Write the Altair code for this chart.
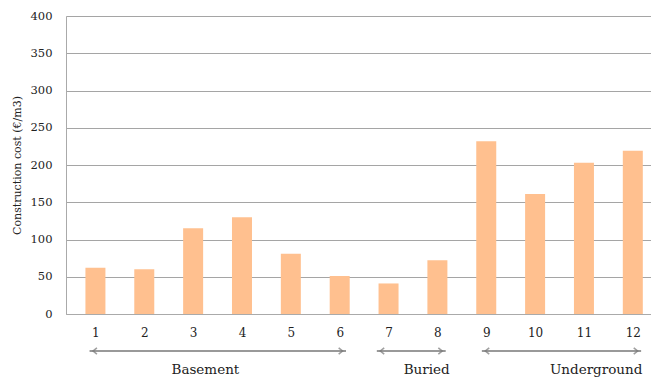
import altair as alt
import pandas as pd

# Construction cost per case study (€/m3)
cases = [1, 2, 3, 4, 5, 6, 7, 8, 9, 10, 11, 12]
costs = [62, 60, 115, 130, 81, 51, 41, 72, 232, 161, 203, 219]

# Case groups shown as double-headed arrows under the axis
group_names = ["Basement", "Buried", "Underground"]
group_start = [0.88, 6.76, 8.91]
group_end = [6.13, 8.17, 12.17]
group_label_at = [3.25, 7.78, 11.25]

FONT = "DejaVu Serif"
BAR = "#FFC08F"
GREY = "#777777"

bars_df = pd.DataFrame({"case": cases, "cost": costs})
groups_df = pd.DataFrame({
    "name": group_names,
    "start": group_start,
    "end": group_end,
    "mid": group_label_at,
})

x_scale = alt.Scale(domain=[0.5, 12.27], nice=False, zero=False)
y_scale = alt.Scale(domain=[0, 400], nice=False)

bars = alt.Chart(bars_df).mark_bar(color=BAR, size=20).encode(
    x=alt.X("case:Q", scale=x_scale,
            axis=alt.Axis(values=cases, format="d", title=None, grid=False,
                          ticks=False, labelPadding=13, domainColor="#aaaaaa",
                          labelFont=FONT, labelFontSize=12, labelColor="#222222")),
    y=alt.Y("cost:Q", scale=y_scale,
            axis=alt.Axis(values=list(range(0, 401, 50)), title="Construction cost  (€/m3)",
                          ticks=False, labelPadding=14, gridColor="#a5a5a5",
                          domainColor="#aaaaaa", labelFont=FONT, labelFontSize=11.5,
                          labelColor="#222222", titleFont=FONT, titleFontSize=11,
                          titleFontWeight="normal", titleColor="#222222",
                          titlePadding=8)),
)

ARROW_Y = 335
base = alt.Chart(groups_df)

shafts = base.mark_rule(color=GREY, strokeWidth=1.6).encode(
    x=alt.X("start:Q", scale=x_scale), x2="end:Q", y=alt.value(ARROW_Y)
)
left_heads = base.mark_point(
    shape="M1,-0.8L0,0L1,0.8", filled=False, stroke=GREY, strokeWidth=1.6, size=60
).encode(x=alt.X("start:Q", scale=x_scale), y=alt.value(ARROW_Y), xOffset=alt.value(3.5))
right_heads = base.mark_point(
    shape="M-1,-0.8L0,0L-1,0.8", filled=False, stroke=GREY, strokeWidth=1.6, size=60
).encode(x=alt.X("end:Q", scale=x_scale), y=alt.value(ARROW_Y), xOffset=alt.value(-3.5))
names = base.mark_text(font=FONT, fontSize=13.5, color="#222222").encode(
    x=alt.X("mid:Q", scale=x_scale), y=alt.value(ARROW_Y + 19), text="name:N"
)

chart = alt.layer(bars, shafts, left_heads, right_heads, names).properties(
    width=585, height=298,
    autosize=alt.AutoSizeParams(type="none"),
    padding={"left": 66, "top": 16, "right": 0, "bottom": 67},
).configure_view(stroke=None).configure(background="white")

chart.save("out.html", embed_options={"renderer": "svg", "actions": False})
